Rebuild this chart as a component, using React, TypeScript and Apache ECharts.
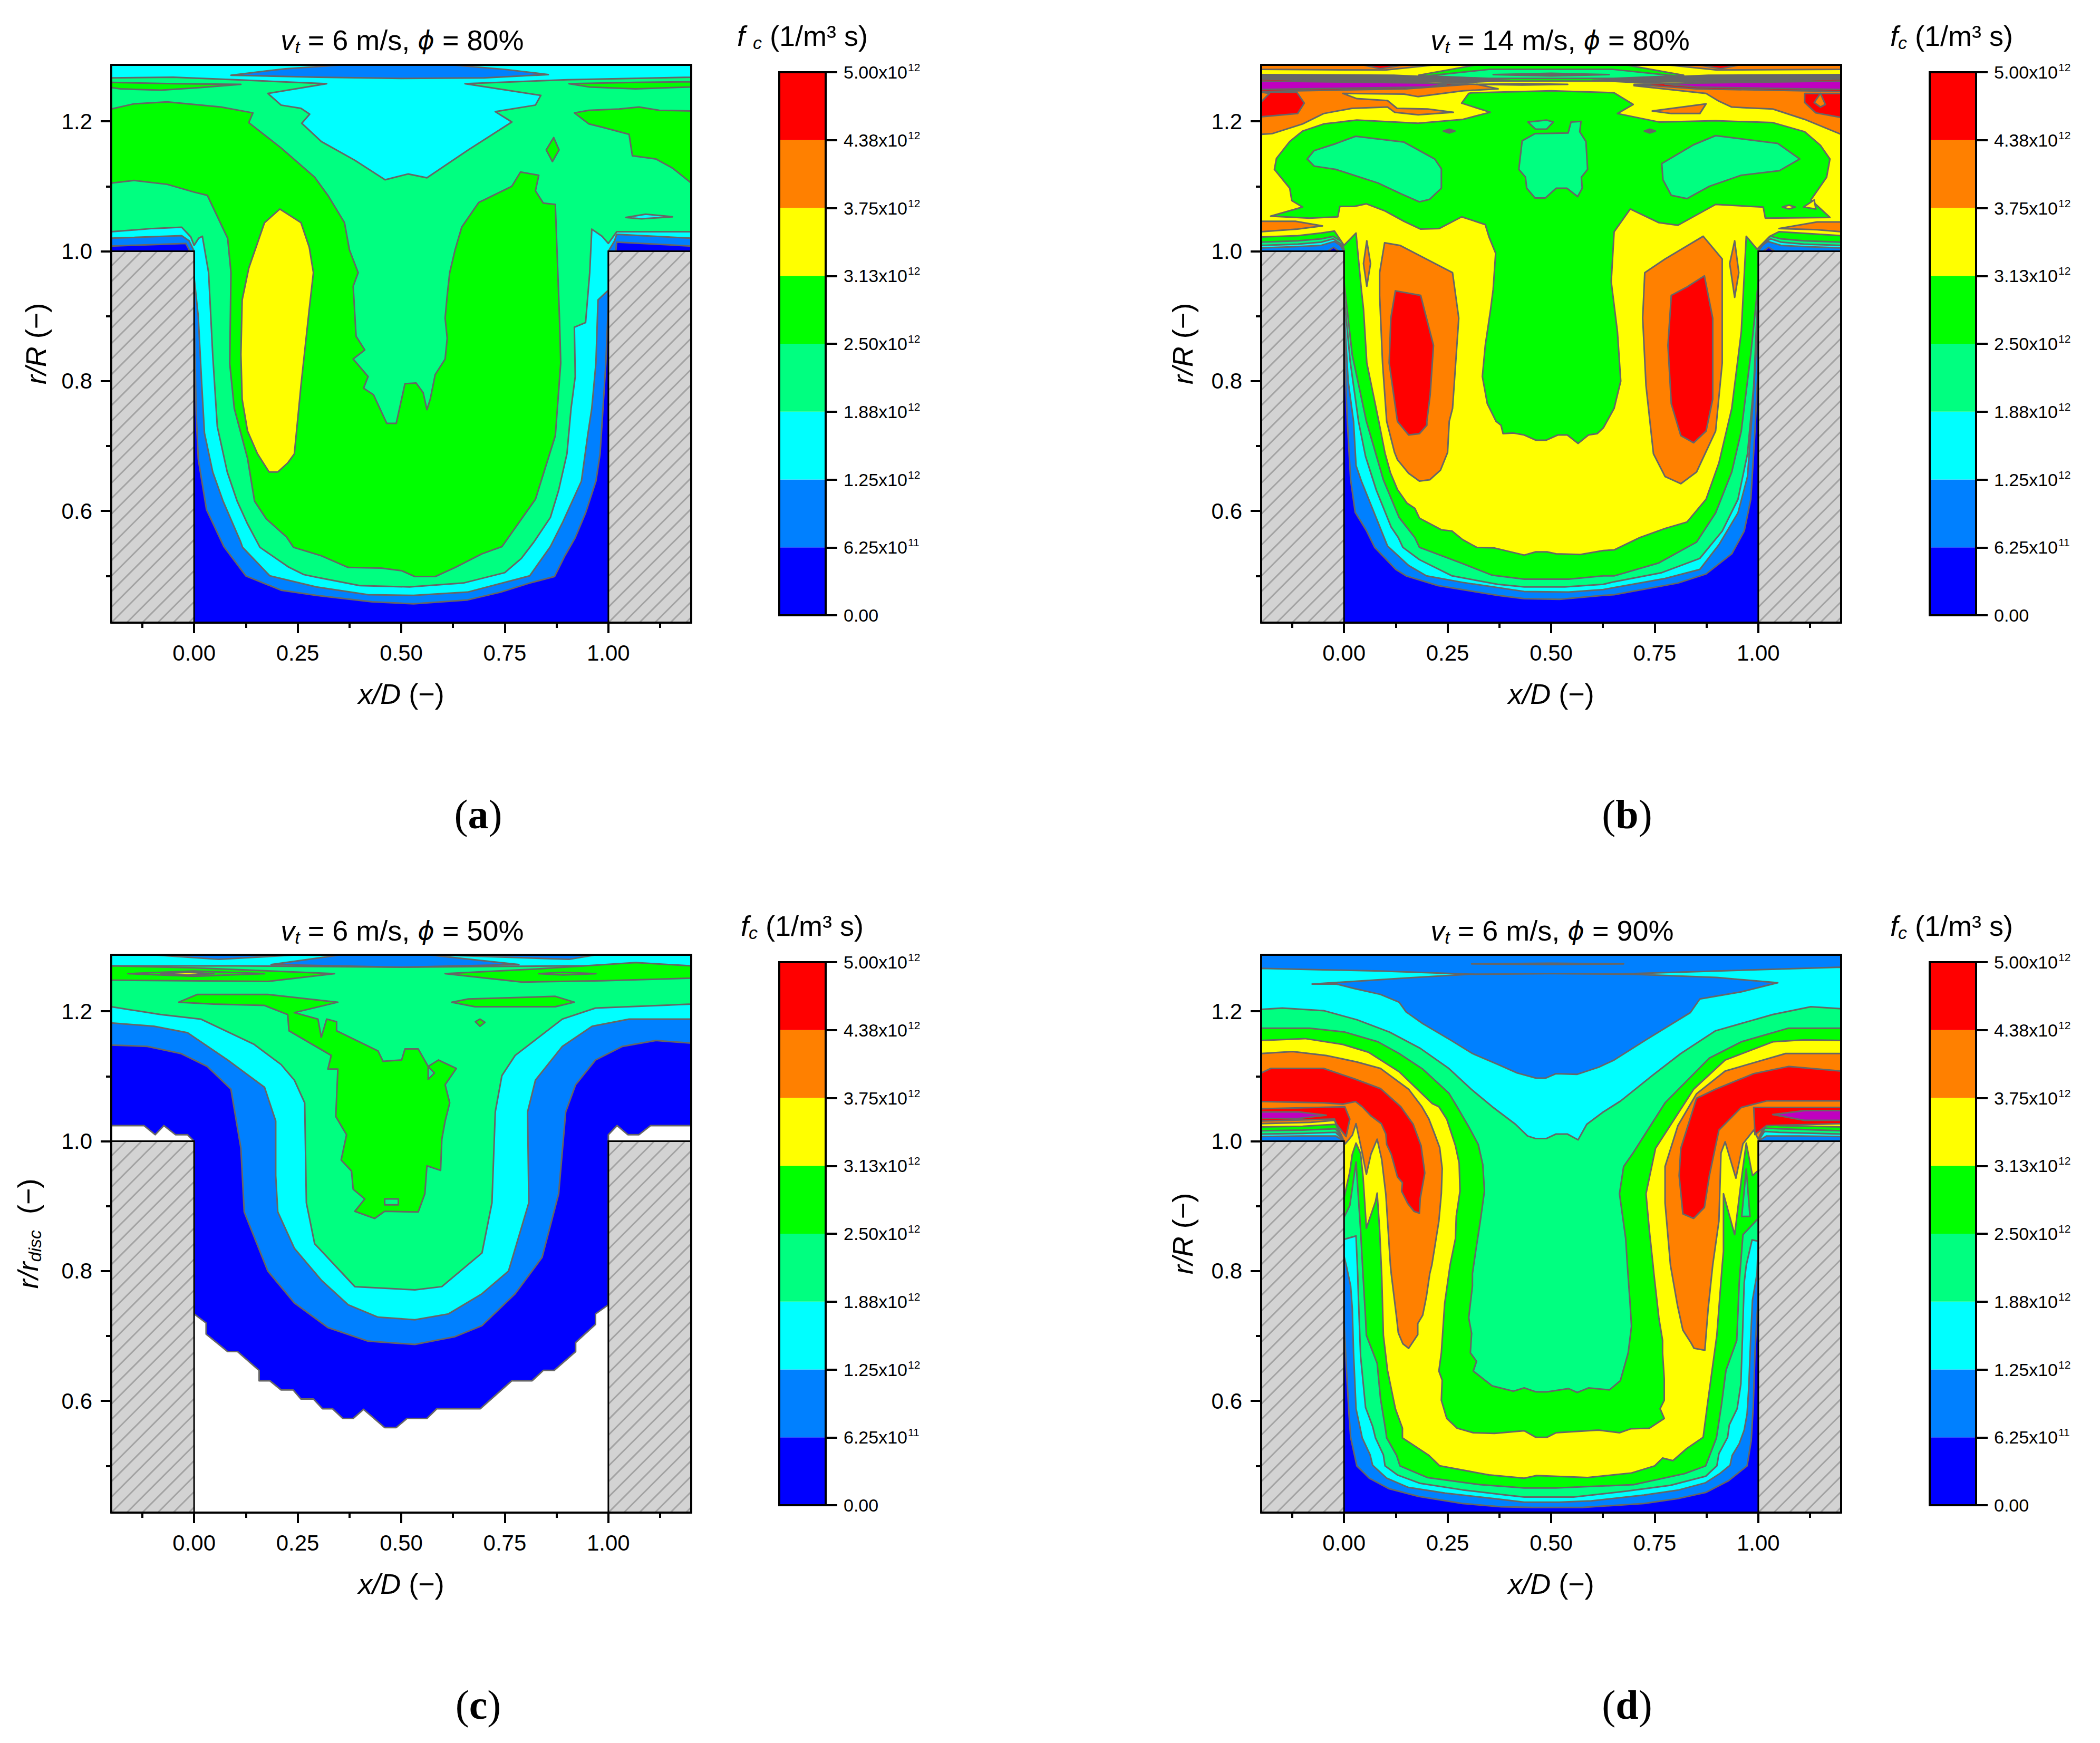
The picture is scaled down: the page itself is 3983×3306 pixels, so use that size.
import React, { useEffect, useRef } from "react";
import * as echarts from "echarts";

type Pt = number[];
const bandColors = ["#0000ff", "#0080ff", "#00ffff", "#00ff80", "#00ff00", "#ffff00", "#ff8000", "#ff0000", "#c000c0", "#666666"];
const colorLevels = [0, 6.25e11, 1.25e12, 1.875e12, 2.5e12, 3.125e12, 3.75e12, 4.375e12, 5e12];
const colorMantissa = ["0.00", "6.25", "1.25", "1.88", "2.50", "3.13", "3.75", "4.38", "5.00"];
const colorExponent = ["", "11", "12", "12", "12", "12", "12", "12", "12"];
const xMajor = [0, 0.25, 0.5, 0.75, 1];
const xMinor = [-0.125, 0.125, 0.375, 0.625, 0.875, 1.125];
const yMajor = [0.6, 0.8, 1.0, 1.2];
const yMinor = [0.5, 0.7, 0.9, 1.1];
const xRange = [-0.2, 1.2];
const yRange = [0.428, 1.287];
const full: Pt[] = [[-0.2, 0.428], [1.2, 0.428], [1.2, 1.287], [-0.2, 1.287]];

// ---------- panel (a): v=6, phi=80 ----------
const a1: Pt[] = [[0,.911],[.005,.75],[.01,.68],[.03,.602],[.072,.545],[.125,.5],[.21,.478],[.295,.47],[.43,.46],[.53,.457],[.66,.463],[.74,.475],[.81,.489],[.87,.499],[.895,.531],[.92,.559],[.945,.597],[.97,.646],[.98,.688],[.994,.828],[1,.92],[1,1],[1.018,1],[1.02,1.014],[1.2,1.008],[1.2,1.287],[-.2,1.287],[-.2,1.008],[-.02,1.012],[-.01,1],[0,1]];
const a2: Pt[] = [[-.2,1.02],[-.03,1.024],[-.012,1.016],[0,1],[0,.96],[.01,.9],[.018,.8],[.025,.72],[.045,.66],[.07,.615],[.112,.553],[.117,.544],[.183,.5],[.295,.483],[.42,.471],[.53,.47],[.66,.475],[.81,.5],[.86,.545],[.89,.583],[.935,.646],[.95,.716],[.96,.758],[.97,.828],[.975,.925],[1,.94],[1,1],[1.015,1.016],[1.02,1.026],[1.2,1.02],[1.2,1.287],[-.2,1.287]];
const a3: Pt[] = [[-.2,1.03],[-.1,1.035],[-.03,1.037],[-.008,1.022],[0,1.009],[.011,1.02],[.02,1.023],[.035,.967],[.045,.84],[.056,.73],[.08,.66],[.104,.615],[.129,.58],[.159,.544],[.227,.514],[.265,.502],[.295,.498],[.4,.485],[.52,.483],[.65,.489],[.75,.505],[.79,.527],[.82,.552],[.86,.59],[.88,.632],[.9,.688],[.91,.758],[.92,.807],[.918,.883],[.945,.89],[.955,.967],[.96,1.034],[.985,1.023],[1,1.012],[1.02,1.03],[1.2,1.03],[1.2,1.268],[-.2,1.268]];
const aCyanTop: Pt[] = [[-.2,1.287],[-.2,1.267],[-.05,1.268],[.1,1.264],[.32,1.258],[.178,1.243],[.21,1.225],[.258,1.22],[.279,1.211],[.26,1.197],[.307,1.169],[.388,1.14],[.461,1.11],[.517,1.119],[.562,1.113],[.662,1.156],[.767,1.199],[.727,1.215],[.824,1.225],[.837,1.24],[.654,1.258],[.9,1.264],[1.2,1.268],[1.2,1.287]];
const aTopLens: Pt[] = [[.089,1.271],[.22,1.281],[.36,1.287],[.62,1.287],[.75,1.28],[.855,1.272],[.7,1.267],[.5,1.266],[.3,1.268]];
const aGreenL: Pt[] = [[-.2,1.26],[-.05,1.258],[.113,1.257],[.016,1.252],[-.08,1.248],[-.178,1.25],[-.2,1.252]];
const aGreenR: Pt[] = [[.905,1.258],[1.066,1.26],[1.2,1.261],[1.2,1.253],[1.066,1.25],[.953,1.253]];
const aGreen: Pt[] = [[-.2,1.219],[-.145,1.227],[-.065,1.23],[.065,1.222],[.142,1.213],[.132,1.198],[.21,1.159],[.291,1.114],[.323,1.086],[.363,1.044],[.375,1.002],[.396,.967],[.384,.946],[.391,.869],[.412,.848],[.384,.834],[.42,.807],[.409,.789],[.433,.779],[.465,.735],[.488,.735],[.509,.796],[.536,.797],[.553,.782],[.562,.756],[.57,.772],[.582,.81],[.606,.834],[.611,.866],[.606,.897],[.611,.932],[.617,.967],[.63,1.002],[.646,1.037],[.687,1.075],[.767,1.1],[.788,1.122],[.832,1.117],[.824,1.093],[.843,1.074],[.872,1.072],[.882,.897],[.885,.828],[.872,.716],[.824,.618],[.743,.545],[.695,.534],[.63,.513],[.582,.499],[.533,.499],[.501,.508],[.452,.512],[.372,.513],[.307,.531],[.24,.544],[.223,.56],[.174,.588],[.146,.615],[.129,.681],[.097,.758],[.086,.827],[.089,.967],[.081,1.02],[.032,1.086],[0,1.091],[-.065,1.103],[-.145,1.109],[-.2,1.105]];
const aGreenTR: Pt[] = [[.918,1.213],[.953,1.217],[1.026,1.219],[1.074,1.222],[1.123,1.217],[1.2,1.216],[1.2,1.105],[1.155,1.128],[1.115,1.142],[1.058,1.147],[1.05,1.18],[.985,1.191],[.953,1.196]];
const aGreenDrop: Pt[] = [[.868,1.175],[.881,1.156],[.865,1.138],[.85,1.156]];
const aCyanSliver: Pt[] = [[1.042,1.052],[1.09,1.057],[1.155,1.053],[1.08,1.05]];
const aYellow: Pt[] = [[.207,1.065],[.258,1.044],[.278,1.006],[.288,.967],[.278,.911],[.258,.793],[.242,.688],[.226,.674],[.202,.66],[.181,.66],[.153,.688],[.129,.723],[.116,.772],[.113,.841],[.116,.925],[.132,.974],[.17,1.044]];
const panelA: [number, Pt[]][] = [[0, full],[1, a1],[2, a2],[3, a3],[2, aCyanTop],[1, aTopLens],[4, aGreenL],[4, aGreenR],[4, aGreen],[4, aGreenTR],[4, aGreenDrop],[2, aCyanSliver],[5, aYellow]];

// ---------- panel (b): v=14, phi=80 ----------
const b1: Pt[] = [[0,.897],[.004,.8],[.008,.738],[.016,.648],[.027,.598],[.054,.57],[.074,.544],[.125,.51],[.15,.5],[.227,.485],[.371,.47],[.435,.465],[.52,.464],[.626,.47],[.652,.471],[.806,.489],[.874,.503],[.936,.534],[.966,.569],[.982,.618],[.992,.723],[1,.828],[1,1],[1.2,1],[1.2,1.287],[-.2,1.287],[-.2,1],[0,1]];
const b1a: Pt[] = [[-.04,1],[-.025,1.006],[-.012,1]];
const b1b: Pt[] = [[1.012,1],[1.025,1.006],[1.04,1]];
const b2: Pt[] = [[-.2,1.005],[-.111,1.007],[-.055,1.009],[-.023,1.015],[-.009,1.009],[0,1],[0,.911],[.01,.8],[.023,.738],[.029,.67],[.042,.646],[.088,.573],[.105,.546],[.156,.516],[.199,.5],[.286,.49],[.435,.476],[.542,.475],[.626,.479],[.652,.482],[.775,.496],[.859,.51],[.905,.548],[.951,.597],[.974,.653],[.986,.758],[1,.897],[1,1],[1.01,1.009],[1.023,1.015],[1.055,1.009],[1.11,1.007],[1.2,1.005],[1.2,1.287],[-.2,1.287]];
const b3: Pt[] = [[-.2,1.009],[-.111,1.011],[-.055,1.014],[-.026,1.019],[-.009,1.012],[0,1.001],[0,.932],[.015,.83],[.035,.738],[.052,.684],[.078,.632],[.114,.575],[.131,.559],[.142,.544],[.182,.525],[.261,.5],[.371,.487],[.435,.483],[.533,.483],[.626,.487],[.652,.491],[.767,.505],[.859,.527],[.913,.569],[.951,.618],[.974,.688],[.989,.793],[1,.946],[1,1],[1.01,1.012],[1.03,1.019],[1.055,1.014],[1.11,1.011],[1.2,1.009],[1.2,1.287],[-.2,1.287]];
const b4: Pt[] = [[-.2,1.014],[-.111,1.016],[-.055,1.019],[-.026,1.023],[-.006,1.015],[0,1.003],[0,.953],[.02,.84],[.054,.738],[.095,.648],[.133,.59],[.171,.559],[.182,.544],[.286,.519],[.358,.501],[.435,.495],[.542,.495],[.626,.5],[.652,.5],[.76,.52],[.851,.552],[.897,.597],[.936,.66],[.959,.723],[.982,.842],[1,.953],[1,1],[1.01,1.015],[1.03,1.023],[1.055,1.019],[1.11,1.016],[1.2,1.014],[1.2,1.287],[-.2,1.287]];
const b5: Pt[] = [[-.2,1.022],[-.111,1.024],[-.055,1.028],[-.023,1.031],[0,1.009],[.029,1.028],[.034,.994],[.042,.94],[.047,.911],[.055,.828],[.084,.738],[.099,.689],[.112,.659],[.129,.633],[.152,.612],[.171,.604],[.182,.589],[.235,.571],[.261,.569],[.286,.556],[.32,.544],[.363,.543],[.435,.532],[.463,.537],[.49,.537],[.512,.534],[.571,.533],[.626,.539],[.652,.54],[.714,.559],[.775,.573],[.828,.583],[.874,.618],[.905,.674],[.936,.758],[.959,.876],[.971,1.023],[.997,1.003],[1.028,1.023],[1.05,1.03],[1.1,1.028],[1.2,1.024],[1.2,1.287],[-.2,1.287]];
const bGreenT: Pt[] = [[.301,1.243],[.284,1.228],[.353,1.214],[.287,1.203],[.179,1.197],[.031,1.202],[-.049,1.196],[-.1,1.185],[-.131,1.169],[-.163,1.143],[-.168,1.126],[-.131,1.097],[-.126,1.078],[-.1,1.068],[-.177,1.054],[-.083,1.051],[-.015,1.053],[-.01,1.069],[.025,1.069],[.054,1.073],[.099,1.062],[.145,1.046],[.185,1.034],[.23,1.035],[.284,1.053],[.341,1.041],[.35,1.022],[.366,.997],[.36,.941],[.354,.911],[.341,.855],[.334,.807],[.346,.765],[.367,.738],[.379,.732],[.384,.719],[.409,.72],[.435,.717],[.463,.709],[.488,.709],[.516,.717],[.539,.717],[.565,.704],[.59,.717],[.611,.719],[.626,.728],[.652,.758],[.668,.8],[.66,.876],[.645,.953],[.652,1.03],[.691,1.065],[.76,1.044],[.806,1.04],[.897,1.072],[1.012,1.068],[1.017,1.051],[1.173,1.052],[1.127,1.079],[1.165,1.114],[1.173,1.142],[1.15,1.163],[1.112,1.184],[1.035,1.198],[.897,1.201],[.76,1.199],[.66,1.212],[.698,1.226],[.652,1.244],[.5,1.247],[.308,1.244]];
const bBlobL: Pt[] = [[-.089,1.142],[-.072,1.155],[-.023,1.165],[.028,1.177],[.145,1.168],[.219,1.142],[.235,1.127],[.235,1.097],[.207,1.08],[.182,1.076],[.139,1.088],[.082,1.105],[-.02,1.126],[-.072,1.131]];
const bBlobC: Pt[] = [[.43,1.17],[.461,1.181],[.541,1.182],[.548,1.199],[.572,1.2],[.569,1.184],[.584,1.169],[.588,1.126],[.573,1.114],[.575,1.097],[.564,1.084],[.538,1.097],[.512,1.097],[.486,1.082],[.461,1.082],[.441,1.097],[.438,1.114],[.422,1.126]];
const bBlobT: Pt[] = [[.444,1.199],[.489,1.202],[.505,1.199],[.489,1.188],[.462,1.188]];
const bBlobR: Pt[] = [[.767,1.135],[.844,1.164],[.897,1.178],[1.047,1.166],[1.1,1.142],[1.051,1.124],[.959,1.117],[.882,1.1],[.828,1.081],[.79,1.086],[.77,1.11]];
const bMiniY1: Pt[] = [[1.058,1.068],[1.074,1.071],[1.089,1.068],[1.074,1.065]];
const bMiniY2: Pt[] = [[1.109,1.068],[1.135,1.079],[1.139,1.065]];
const bDotL: Pt[] = [[.24,1.185],[.254,1.188],[.268,1.185],[.254,1.182]];
const bDotR: Pt[] = [[.725,1.185],[.738,1.188],[.752,1.185],[.738,1.182]];
const bOrLensL: Pt[] = [[-.2,1.046],[-.117,1.046],[-.052,1.039],[-.112,1.034],[-.2,1.03]];
const bOrLensR: Pt[] = [[1.05,1.035],[1.142,1.045],[1.2,1.045],[1.2,1.03],[1.142,1.033]];
const bOrL: Pt[] = [[.086,.967],[.098,1.013],[.135,1.009],[.262,.967],[.277,.897],[.262,.758],[.254,.738],[.25,.69],[.233,.663],[.207,.648],[.182,.646],[.156,.658],[.129,.679],[.122,.69],[.103,.738],[.093,.828],[.086,.932]];
const bRedL: Pt[] = [[.124,.939],[.185,.932],[.216,.855],[.208,.779],[.2,.738],[.2,.732],[.182,.719],[.156,.717],[.129,.738],[.109,.828],[.113,.897]];
const bOrR: Pt[] = [[.726,.967],[.775,.988],[.867,1.023],[.913,.988],[.913,.828],[.897,.723],[.851,.66],[.813,.642],[.775,.653],[.747,.688],[.729,.793],[.721,.897]];
const bRedR: Pt[] = [[.79,.932],[.828,.945],[.87,.962],[.89,.897],[.89,.772],[.874,.723],[.844,.705],[.813,.716],[.79,.765],[.782,.855]];
const bSlimL: Pt[] = [[.055,1.016],[.064,.981],[.055,.946],[.047,.981]];
const bSlimR: Pt[] = [[.943,1.016],[.953,.967],[.943,.929],[.931,.981]];
const bOrTopL: Pt[] = [[-.2,1.18],[-.174,1.181],[-.1,1.196],[-.049,1.212],[.019,1.22],[.105,1.222],[.122,1.214],[.179,1.21],[.264,1.214],[.202,1.219],[.128,1.22],[.105,1.232],[.031,1.235],[-.003,1.243],[.145,1.242],[.179,1.238],[.287,1.247],[.372,1.25],[.321,1.257],[-.2,1.262]];
const bRedBlobL: Pt[] = [[-.2,1.245],[-.114,1.245],[-.096,1.228],[-.112,1.212],[-.2,1.207]];
const bOrInRedL: Pt[] = [[-.2,1.245],[-.18,1.243],[-.2,1.23]];
const bOrTopR: Pt[] = [[1.2,1.18],[1.112,1.203],[1.035,1.219],[.936,1.222],[.905,1.231],[.874,1.243],[.7,1.255],[1.2,1.262]];
const bOrLensTR: Pt[] = [[.744,1.216],[.874,1.227],[.859,1.212],[.79,1.212]];
const bRedBlobR: Pt[] = [[1.112,1.243],[1.2,1.243],[1.2,1.206],[1.139,1.213],[1.112,1.229]];
const bOrInRedR: Pt[] = [[1.15,1.243],[1.162,1.226],[1.15,1.222],[1.135,1.229]];
const bTopOrL: Pt[] = [[-.2,1.287],[.22,1.287],[.1,1.279],[-.2,1.28]];
const bTopRedL: Pt[] = [[.045,1.287],[.145,1.287],[.088,1.281]];
const bTopOrR: Pt[] = [[.78,1.287],[1.2,1.287],[1.2,1.28],[.9,1.279]];
const bTopRedR: Pt[] = [[.855,1.287],[.955,1.287],[.91,1.281]];
const bTopGreen: Pt[] = [[.18,1.271],[.32,1.287],[.68,1.287],[.82,1.271],[.68,1.262],[.32,1.262]];
const bTopTeal: Pt[] = [[.2,1.27],[.35,1.28],[.65,1.28],[.8,1.27],[.65,1.266],[.35,1.266]];
const bTopLine: Pt[] = [[.36,1.272],[.5,1.274],[.64,1.272],[.5,1.27]];
const bGrayL: Pt[] = [[-.2,1.272],[.12,1.271],[.3,1.266],[.4,1.263],[.3,1.26],[.1,1.262],[-.2,1.262]];
const bGrayR: Pt[] = [[1.2,1.272],[.88,1.271],[.7,1.266],[.6,1.263],[.7,1.26],[.9,1.262],[1.2,1.262]];
const bRedBandL: Pt[] = [[-.2,1.265],[.3,1.257],[.15,1.25],[-.2,1.246]];
const bRedBandR: Pt[] = [[1.2,1.265],[.7,1.257],[.85,1.25],[1.2,1.246]];
const bPurpleL: Pt[] = [[-.2,1.262],[.202,1.259],[.247,1.257],[.202,1.253],[-.2,1.249]];
const bPurpleR: Pt[] = [[1.2,1.262],[.85,1.259],[.775,1.257],[.85,1.253],[1.2,1.249]];
const bMidThin: Pt[] = [[.32,1.257],[.43,1.258],[.54,1.257],[.43,1.256]];
const panelB: [number, Pt[]][] = [[0, full],[1, b1],[0, b1a],[0, b1b],[2, b2],[3, b3],[4, b4],[5, b5],[4, bGreenT],[3, bBlobL],[3, bBlobC],[3, bBlobT],[3, bBlobR],[5, bMiniY1],[5, bMiniY2],[9, bDotL],[9, bDotR],[6, bOrLensL],[6, bOrLensR],[6, bOrL],[7, bRedL],[6, bOrR],[7, bRedR],[6, bSlimL],[6, bSlimR],[6, bOrTopL],[7, bRedBlobL],[6, bOrInRedL],[6, bOrTopR],[6, bOrLensTR],[7, bRedBlobR],[6, bOrInRedR],[6, bTopOrL],[7, bTopRedL],[6, bTopOrR],[7, bTopRedR],[4, bTopGreen],[3, bTopTeal],[9, bTopLine],[9, bGrayL],[9, bGrayR],[7, bRedBandL],[7, bRedBandR],[8, bPurpleL],[8, bPurpleR],[5, bMidThin]];

// ---------- panel (c): v=6, phi=50 ----------
const c0: Pt[] = [[-.2,1.024],[-.121,1.024],[-.094,1.01],[-.073,1.024],[-.045,1.01],[-.016,1.01],[0,1],[0,.734],[.029,.72],[.029,.703],[.081,.676],[.105,.676],[.157,.647],[.157,.631],[.183,.631],[.21,.617],[.239,.617],[.258,.603],[.288,.603],[.31,.588],[.334,.588],[.359,.573],[.384,.573],[.409,.587],[.46,.559],[.488,.559],[.514,.573],[.562,.573],[.586,.588],[.691,.588],[.767,.631],[.816,.631],[.843,.647],[.869,.647],[.921,.676],[.921,.69],[.969,.718],[.969,.734],[1,.748],[1,1],[1,1.01],[1.021,1.024],[1.047,1.01],[1.074,1.01],[1.102,1.024],[1.2,1.024],[1.2,1.287],[-.2,1.287]];
const c1: Pt[] = [[-.2,1.148],[-.113,1.146],[-.032,1.135],[.032,1.115],[.089,1.08],[.113,.989],[.121,.891],[.178,.8],[.242,.751],[.323,.713],[.42,.692],[.533,.687],[.63,.699],[.695,.716],[.775,.765],[.84,.821],[.88,.919],[.897,1.045],[.921,1.087],[.969,1.125],[1.034,1.146],[1.115,1.155],[1.2,1.151],[1.2,1.287],[-.2,1.287]];
const c2: Pt[] = [[-.2,1.182],[-.097,1.177],[-.016,1.167],[.081,1.125],[.17,1.083],[.197,1.031],[.197,.947],[.202,.891],[.242,.835],[.307,.786],[.372,.748],[.444,.729],[.533,.725],[.614,.734],[.695,.765],[.759,.8],[.808,.905],[.805,1.045],[.824,1.094],[.889,1.146],[.961,1.177],[1.05,1.188],[1.2,1.188],[1.2,1.287],[-.2,1.287]];
const c3: Pt[] = [[-.2,1.207],[-.081,1.195],[.016,1.188],[.145,1.149],[.21,1.118],[.242,1.094],[.267,1.059],[.271,.905],[.291,.842],[.388,.776],[.533,.771],[.598,.776],[.695,.828],[.719,.905],[.727,1.045],[.743,1.101],[.775,1.132],[.889,1.188],[.969,1.205],[1.2,1.211],[1.2,1.27],[.9,1.27],[.5,1.268],[.1,1.27],[-.2,1.27]];
const cLensTop: Pt[] = [[.186,1.272],[.355,1.287],[.565,1.287],[.784,1.272],[.5,1.268]];
const cLensTL: Pt[] = [[-.1,1.287],[.06,1.28],[.25,1.287]];
const cLensTR: Pt[] = [[.58,1.287],[.905,1.28],[.97,1.287]];
const cGreenTL: Pt[] = [[-.2,1.27],[0,1.267],[.339,1.258],[.178,1.246],[-.2,1.248]];
const cGreenTR: Pt[] = [[.606,1.258],[.824,1.265],[1.066,1.275],[1.2,1.27],[1.2,1.251],[.985,1.247],[.792,1.245]];
const cInnerL: Pt[] = [[-.16,1.258],[0,1.262],[.17,1.258],[0,1.254]];
const cInnerL2: Pt[] = [[-.08,1.258],[-.016,1.26],[.048,1.258],[-.016,1.256]];
const cInnerR: Pt[] = [[.832,1.258],[.89,1.26],[.97,1.258],[.89,1.256]];
const cGreenMain: Pt[] = [[-.037,1.214],[.008,1.226],[.178,1.226],[.347,1.214],[.242,1.198],[.299,1.188],[.307,1.16],[.32,1.188],[.344,1.184],[.344,1.17],[.444,1.139],[.456,1.123],[.501,1.125],[.509,1.142],[.541,1.142],[.565,1.115],[.59,1.125],[.633,1.112],[.606,1.087],[.617,1.059],[.606,1.031],[.598,1.003],[.595,.955],[.562,.962],[.557,.919],[.541,.891],[.46,.892],[.436,.881],[.388,.892],[.412,.911],[.384,.926],[.38,.954],[.355,.971],[.368,1.01],[.342,1.038],[.347,1.111],[.323,1.111],[.331,1.132],[.229,1.17],[.226,1.195],[.17,1.209],[.048,1.211]];
const cHoleA: Pt[] = [[.46,.911],[.493,.911],[.493,.902],[.46,.902]];
const cHoleB: Pt[] = [[.565,1.115],[.58,1.105],[.565,1.095]];
const cGreenMid: Pt[] = [[.622,1.214],[.662,1.219],[.872,1.223],[.918,1.214],[.872,1.207],[.678,1.207]];
const cGreenDot: Pt[] = [[.69,1.188],[.702,1.183],[.69,1.177],[.679,1.184]];
const panelC: [number, Pt[]][] = [[0, c0],[1, c1],[2, c2],[3, c3],[1, cLensTop],[1, cLensTL],[1, cLensTR],[4, cGreenTL],[4, cGreenTR],[4, cInnerL],[5, cInnerL2],[4, cInnerR],[4, cGreenMain],[3, cHoleA],[3, cHoleB],[4, cGreenMid],[4, cGreenDot]];

// ---------- panel (d): v=6, phi=90 ----------
const d1: Pt[] = [[0,.72],[.001,.709],[.006,.647],[.012,.58],[.016,.544],[.031,.5],[.061,.481],[.108,.465],[.18,.453],[.286,.442],[.38,.437],[.456,.436],[.575,.436],[.724,.442],[.809,.45],[.873,.459],[.928,.477],[.973,.5],[.983,.539],[.988,.593],[.992,.674],[.998,.742],[1,.78],[1,1],[1.2,1],[1.2,1.287],[-.2,1.287],[-.2,1],[0,1]];
const d2: Pt[] = [[-.2,1.007],[-.1,1.008],[-.02,1.008],[0,1],[0,.823],[.005,.81],[.016,.777],[.02,.742],[.023,.674],[.029,.588],[.044,.543],[.063,.517],[.069,.501],[.103,.481],[.154,.467],[.244,.458],[.371,.449],[.435,.444],[.52,.444],[.597,.446],[.724,.455],[.809,.463],[.873,.474],[.907,.488],[.932,.501],[.937,.516],[.954,.534],[.966,.555],[.973,.58],[.977,.62],[.982,.701],[.986,.755],[.997,.796],[1,.85],[1,1],[1.02,1.008],[1.1,1.008],[1.2,1.007],[1.2,1.268],[.9,1.262],[.64,1.257],[.316,1.257],[.088,1.262],[-.2,1.266]];
const dTeal: Pt[] = [[-.2,1.203],[-.149,1.205],[-.049,1.201],[.031,1.187],[.11,1.168],[.184,1.143],[.253,1.112],[.307,1.08],[.358,1.053],[.414,1.026],[.443,1.008],[.463,1.004],[.488,1.004],[.512,1.011],[.539,1.011],[.565,1.002],[.586,1.026],[.626,1.045],[.668,1.062],[.744,1.101],[.813,1.135],[.897,1.17],[.974,1.184],[1.035,1.195],[1.127,1.207],[1.2,1.204],[1.2,1.011],[1.05,1.0135],[1.015,1.015],[1,1],[1,.846],[.985,.848],[.971,.809],[.966,.782],[.962,.701],[.958,.626],[.949,.588],[.93,.563],[.926,.544],[.905,.519],[.9,.5],[.873,.484],[.788,.47],[.682,.461],[.554,.452],[.435,.452],[.392,.455],[.286,.463],[.184,.473],[.129,.486],[.099,.5],[.095,.517],[.076,.543],[.069,.561],[.052,.59],[.04,.669],[.035,.755],[.033,.796],[.029,.854],[.001,.849],[0,.849],[0,1],[-.02,1.0135],[-.1,1.012],[-.2,1.011]];
const dGreen: Pt[] = [[-.2,1.174],[-.083,1.174],[.002,1.168],[.082,1.153],[.133,1.135],[.19,1.111],[.253,1.074],[.273,1.053],[.303,1.02],[.324,.995],[.335,.964],[.339,.923],[.329,.877],[.318,.831],[.31,.796],[.31,.777],[.301,.728],[.308,.704],[.305,.674],[.32,.661],[.312,.646],[.358,.623],[.409,.615],[.435,.62],[.463,.614],[.49,.614],[.542,.619],[.563,.613],[.59,.62],[.641,.617],[.667,.631],[.686,.674],[.694,.715],[.69,.755],[.684,.809],[.68,.85],[.665,.919],[.675,.961],[.698,.982],[.775,1.059],[.882,1.128],[.959,1.153],[1.073,1.174],[1.2,1.174],[1.2,1.016],[1.05,1.019],[1.015,1.02],[1,1],[1,.881],[.963,.856],[.954,.782],[.948,.693],[.922,.647],[.911,.593],[.899,.543],[.873,.5],[.822,.488],[.699,.471],[.511,.466],[.435,.466],[.329,.471],[.201,.482],[.135,.5],[.127,.516],[.103,.543],[.101,.553],[.088,.604],[.08,.658],[.054,.701],[.052,.728],[.046,.793],[.04,.863],[.029,.968],[.014,.901],[.001,.884],[0,.884],[0,1],[-.02,1.019],[-.1,1.017],[-.2,1.016]];
const dYellow: Pt[] = [[-.2,1.155],[-.094,1.158],[-.003,1.149],[.059,1.137],[.133,1.107],[.213,1.058],[.229,1.053],[.248,1.034],[.269,.993],[.278,.966],[.28,.923],[.271,.885],[.269,.85],[.256,.809],[.243,.75],[.235,.674],[.229,.646],[.237,.632],[.235,.601],[.248,.573],[.273,.558],[.312,.551],[.363,.55],[.435,.554],[.463,.544],[.49,.544],[.512,.551],[.614,.555],[.665,.551],[.692,.557],[.737,.558],[.773,.573],[.763,.588],[.773,.601],[.773,.634],[.769,.674],[.769,.693],[.76,.728],[.748,.796],[.746,.809],[.737,.863],[.729,.919],[.752,.989],[.844,1.08],[.92,1.125],[1.035,1.153],[1.112,1.156],[1.2,1.155],[1.2,1.022],[1.05,1.024],[1.02,1.026],[1,1],[1,.955],[.986,.947],[.971,.997],[.959,.94],[.943,.856],[.916,.919],[.916,.83],[.913,.809],[.9,.701],[.877,.593],[.867,.544],[.826,.526],[.794,.508],[.769,.512],[.75,.5],[.694,.489],[.588,.482],[.465,.485],[.435,.481],[.35,.486],[.231,.5],[.205,.516],[.141,.543],[.141,.558],[.124,.588],[.105,.647],[.095,.701],[.091,.793],[.086,.863],[.08,.92],[.076,.907],[.054,.866],[.046,.945],[.04,.981],[.029,.997],[.02,.98],[.014,.953],[.001,.915],[0,.915],[0,1],[-.02,1.026],[-.1,1.023],[-.2,1.022]];
const dSpikeR: Pt[] = [[.96,.884],[.971,.957],[.98,.884]];
const dOrL: Pt[] = [[-.2,1.135],[-.124,1.138],[-.043,1.132],[.031,1.122],[.088,1.112],[.156,1.08],[.188,1.053],[.205,1.034],[.22,1.009],[.231,.99],[.237,.958],[.235,.92],[.229,.877],[.212,.809],[.207,.796],[.199,.761],[.19,.732],[.178,.719],[.178,.702],[.156,.681],[.142,.688],[.131,.705],[.127,.728],[.114,.796],[.112,.809],[.101,.918],[.091,.972],[.08,1.003],[.065,.98],[.054,.949],[.044,.982],[.029,1.027],[.02,1.009],[.003,.996],[0,1],[-.023,1.032],[-.08,1.029],[-.2,1.027]];
const dOrR: Pt[] = [[1.2,1.135],[1.066,1.135],[.92,1.108],[.851,1.073],[.806,1.024],[.775,.961],[.775,.905],[.788,.809],[.805,.747],[.818,.709],[.837,.69],[.845,.681],[.871,.678],[.879,.742],[.89,.809],[.905,.877],[.91,.982],[.92,.999],[.946,.943],[.963,.996],[.989,1.017],[1,1.003],[1.02,1.032],[1.08,1.029],[1.2,1.027]];
const dRedL: Pt[] = [[-.2,1.105],[-.177,1.112],[-.049,1.112],[.025,1.096],[.088,1.081],[.137,1.053],[.167,1.026],[.186,.993],[.195,.951],[.184,.912],[.182,.889],[.169,.892],[.154,.904],[.139,.923],[.141,.936],[.129,.945],[.114,.98],[.103,.995],[.101,1.011],[.09,1.027],[.065,1.039],[.044,1.053],[.028,1.061],[-.003,1.057],[-.049,1.059],[-.2,1.061]];
const dRedR: Pt[] = [[1.2,1.108],[1.073,1.115],[.989,1.104],[.897,1.08],[.851,1.066],[.813,.989],[.809,.947],[.818,.888],[.844,.881],[.87,.898],[.882,.947],[.905,1.017],[.959,1.052],[1.02,1.062],[1.2,1.062]];
const dLensL: Pt[] = [[-.2,1.05],[.002,1.053],[.014,1.034],[.005,1.007],[-.018,1.026],[-.023,1.034],[-.2,1.031]];
const dLensR: Pt[] = [[.989,1.052],[1.2,1.052],[1.2,1.027],[1.02,1.024],[.992,1.01]];
const dPurpleL: Pt[] = [[-.2,1.045],[-.11,1.045],[-.043,1.04],[-.11,1.035],[-.2,1.035]];
const dPurpleR: Pt[] = [[1.035,1.041],[1.112,1.047],[1.2,1.047],[1.2,1.032],[1.112,1.032]];
const dBlueTop: Pt[] = [[-.077,1.242],[-.018,1.242],[.025,1.235],[.088,1.226],[.133,1.214],[.15,1.199],[.19,1.181],[.259,1.155],[.31,1.135],[.372,1.118],[.418,1.105],[.464,1.097],[.486,1.097],[.512,1.104],[.563,1.103],[.615,1.114],[.652,1.125],[.729,1.156],[.836,1.198],[.859,1.219],[.959,1.23],[1.047,1.244],[.9,1.252],[.7,1.257],[.5,1.258],[.3,1.257],[.145,1.251]];
const dTopLine: Pt[] = [[.308,1.273],[.5,1.274],[.675,1.273],[.5,1.272]];
const panelD: [number, Pt[]][] = [[0, full],[1, d1],[2, d2],[3, dTeal],[4, dGreen],[5, dYellow],[3, dSpikeR],[6, dOrL],[6, dOrR],[7, dRedL],[7, dRedR],[7, dLensL],[7, dLensR],[8, dPurpleL],[8, dPurpleR],[1, dBlueTop],[9, dTopLine]];

const FONT = "Liberation Sans";
const titleRich = {
  i: { fontFamily: FONT, fontStyle: "italic", fontWeight: "normal", fontSize: 54, color: "#000" },
  n: { fontFamily: FONT, fontWeight: "normal", fontSize: 54, color: "#000" },
  t: { fontFamily: FONT, fontStyle: "italic", fontWeight: "normal", fontSize: 34, color: "#000", padding: [26, 0, 0, 0] },
  p: { fontFamily: "DejaVu Sans", fontStyle: "italic", fontWeight: "normal", fontSize: 48, color: "#000" },
};
const capRich = {
  n: { fontFamily: "Liberation Serif", fontWeight: "normal", fontSize: 78, color: "#000" },
  b: { fontFamily: "Liberation Serif", fontSize: 78, fontWeight: "bold", color: "#000" },
};

const panels = [
  { polys: panelA, label: "a", title: "{i|v}{t|t}{n| = 6 m/s, }{p|ϕ}{n| = 80%}", tx: 763, ty: 46, px: 211, py: 123, cx: 1478, cy: 137, lx: 1398, ly: 38, legend: "{i|f }{t|c}{n| (1/m³ s)}", yn: "{i|r/R}{n| (−)}", ynGap: 116, capX: 907, capY: 1549 },
  { polys: panelB, label: "b", title: "{i|v}{t|t}{n| = 14 m/s, }{p|ϕ}{n| = 80%}", tx: 2959, ty: 46, px: 2392, py: 123, cx: 3660, cy: 137, lx: 3585, ly: 38, legend: "{i|f}{t|c}{n| (1/m³ s)}", yn: "{i|r/R}{n| (−)}", ynGap: 122, capX: 3086, capY: 1549 },
  { polys: panelC, label: "c", title: "{i|v}{t|t}{n| = 6 m/s, }{p|ϕ}{n| = 50%}", tx: 763, ty: 1735, px: 211, py: 1811, cx: 1478, cy: 1825, lx: 1405, ly: 1726, legend: "{i|f}{t|c}{n| (1/m³ s)}", yn: "{i|r/r}{t|disc}{n|  (−)}", ynGap: 128, capX: 907, capY: 3238 },
  { polys: panelD, label: "d", title: "{i|v}{t|t}{n| = 6 m/s, }{p|ϕ}{n| = 90%}", tx: 2944, ty: 1735, px: 2392, py: 1811, cx: 3660, cy: 1825, lx: 3585, ly: 1726, legend: "{i|f}{t|c}{n| (1/m³ s)}", yn: "{i|r/R}{n| (−)}", ynGap: 122, capX: 3086, capY: 3238 },
];

function hatchRender(blocks: number[][]) {
  return (params: any, api: any) => {
    const b = blocks[params.dataIndex];
    const p0 = api.coord([b[0], b[2]]);
    const p1 = api.coord([b[1], b[3]]);
    const x0 = Math.min(p0[0], p1[0]), x1 = Math.max(p0[0], p1[0]);
    const yb = Math.max(p0[1], p1[1]), yt = Math.min(p0[1], p1[1]);
    const w = x1 - x0, h = yb - yt;
    const kids: any[] = [{ type: "rect", shape: { x: x0, y: yt, width: w, height: h }, style: { fill: "#d3d3d3", stroke: "none" } }];
    const step = 29.4;
    for (let k = Math.ceil(-h / step); k * step < w; k++) {
      const c = k * step;
      const sx = Math.max(c, 0), sy = Math.max(-c, 0);
      const t = Math.min(w - sx, h - sy);
      kids.push({ type: "line", shape: { x1: x0 + sx, y1: yb - sy, x2: x0 + sx + t, y2: yb - sy - t }, style: { stroke: "#a3a3a3", lineWidth: 3 } });
    }
    kids.push({ type: "rect", shape: { x: x0, y: yt, width: w, height: h }, style: { fill: "none", stroke: "#000", lineWidth: 3 } });
    return { type: "group", children: kids };
  };
}

function buildOption() {
  const grid: any[] = [], xAxis: any[] = [], yAxis: any[] = [], series: any[] = [], title: any[] = [];
  const blocks = [[xRange[0], 0, yRange[0], 1], [1, xRange[1], yRange[0], 1]];
  const barRich = {
    m: { fontFamily: FONT, fontSize: 34, color: "#000" },
    s: { fontFamily: FONT, fontSize: 21, color: "#000", padding: [0, 0, 19, 1] },
  };
  const hiddenLine = { show: false };
  panels.forEach((p) => {
    const g = grid.length;
    grid.push({ left: p.px, top: p.py, width: 1100, height: 1058 });
    const xi = xAxis.length, yi = yAxis.length;
    const xBase = { type: "value", gridIndex: g, min: xRange[0], max: xRange[1], splitLine: hiddenLine, z: 10 };
    const yBase = { type: "value", gridIndex: g, min: yRange[0], max: yRange[1], splitLine: hiddenLine, z: 10 };
    const line = { show: true, onZero: false, lineStyle: { color: "#000", width: 4 } };
    xAxis.push({
      ...xBase, position: "bottom", axisLine: line,
      axisTick: { show: true, length: 20, customValues: xMajor, lineStyle: { color: "#000", width: 4 } },
      axisLabel: { show: true, margin: 36, customValues: xMajor, fontFamily: FONT, fontSize: 42, color: "#000", formatter: (v: number) => v.toFixed(2) },
      name: "{i|x/D}{n| (−)}", nameLocation: "center", nameGap: 108, nameTextStyle: { rich: titleRich },
    });
    xAxis.push({ ...xBase, position: "bottom", axisLine: line, axisLabel: { show: false }, axisTick: { show: true, length: 10, customValues: xMinor, lineStyle: { color: "#000", width: 4 } } });
    xAxis.push({ ...xBase, position: "top", axisLine: line, axisLabel: { show: false }, axisTick: { show: false } });
    yAxis.push({
      ...yBase, position: "left", axisLine: line,
      axisTick: { show: true, length: 20, customValues: yMajor, lineStyle: { color: "#000", width: 4 } },
      axisLabel: { show: true, margin: 36, customValues: yMajor, fontFamily: FONT, fontSize: 42, color: "#000", formatter: (v: number) => v.toFixed(1) },
      name: p.yn, nameLocation: "center", nameGap: p.ynGap, nameRotate: 90, nameTextStyle: { rich: titleRich },
    });
    yAxis.push({ ...yBase, position: "left", axisLine: line, axisLabel: { show: false }, axisTick: { show: true, length: 10, customValues: yMinor, lineStyle: { color: "#000", width: 4 } } });
    yAxis.push({ ...yBase, position: "right", axisLine: line, axisLabel: { show: false }, axisTick: { show: false } });

    const polys = p.polys;
    series.push({
      type: "custom", coordinateSystem: "cartesian2d", xAxisIndex: xi, yAxisIndex: yi, clip: true, silent: true, z: 2,
      data: polys.map((q, i) => [q[1][0][0], q[1][0][1], i]),
      renderItem: (params: any, api: any) => {
        const q = polys[params.dataIndex];
        const isBase = q[1] === full;
        return {
          type: "polygon",
          shape: { points: q[1].map((c) => api.coord(c)) },
          style: { fill: bandColors[q[0]], stroke: isBase ? "none" : "#666666", lineWidth: 3, lineJoin: "round" },
        };
      },
    });
    series.push({
      type: "custom", coordinateSystem: "cartesian2d", xAxisIndex: xi, yAxisIndex: yi, clip: true, silent: true, z: 3,
      data: blocks.map((b) => [b[0], b[2]]), renderItem: hatchRender(blocks),
    });

    // colour bar
    const cg = grid.length;
    grid.push({ left: p.cx, top: p.cy, width: 88, height: 1030 });
    const cxi = xAxis.length, cyi = yAxis.length;
    xAxis.push({ type: "value", gridIndex: cg, min: 0, max: 1, show: false });
    yAxis.push({
      type: "value", gridIndex: cg, position: "right", min: 0, max: 5e12, interval: 6.25e11, z: 10,
      splitLine: hiddenLine, axisLine: { show: true, onZero: false, lineStyle: { color: "#000", width: 4 } },
      axisTick: { show: true, length: 22, lineStyle: { color: "#000", width: 4 } },
      axisLabel: {
        show: true, margin: 34, rich: barRich, showMinLabel: true, showMaxLabel: true,
        formatter: (v: number) => {
          const i = Math.round(v / 6.25e11);
          return colorExponent[i] ? `{m|${colorMantissa[i]}x10}{s|${colorExponent[i]}}` : `{m|${colorMantissa[i]}}`;
        },
      },
    });
    series.push({
      type: "custom", coordinateSystem: "cartesian2d", xAxisIndex: cxi, yAxisIndex: cyi, silent: true, z: 2,
      data: colorLevels.slice(0, -1).map((v, i) => [0, v, colorLevels[i + 1]]),
      renderItem: (params: any, api: any) => {
        const a = api.coord([0, api.value(1)]);
        const b = api.coord([1, api.value(2)]);
        return { type: "rect", shape: { x: a[0], y: b[1], width: b[0] - a[0], height: a[1] - b[1] }, style: { fill: bandColors[params.dataIndex], stroke: "none" } };
      },
    });
    series.push({
      type: "custom", coordinateSystem: "cartesian2d", xAxisIndex: cxi, yAxisIndex: cyi, silent: true, z: 5,
      data: [[0, 0]],
      renderItem: (_: any, api: any) => {
        const a = api.coord([0, 0]);
        const b = api.coord([1, 5e12]);
        return { type: "rect", shape: { x: a[0], y: b[1], width: b[0] - a[0], height: a[1] - b[1] }, style: { fill: "none", stroke: "#000", lineWidth: 4 } };
      },
    });

    title.push({ text: p.title, left: p.tx, top: p.ty, textAlign: "center", padding: 0, textStyle: { fontWeight: "normal", rich: titleRich } });
    title.push({ text: p.legend, left: p.lx, top: p.ly, padding: 0, textStyle: { fontWeight: "normal", rich: titleRich } });
    title.push({ text: `{n|(}{b|${p.label}}{n|)}`, left: p.capX, top: p.capY - 44, textAlign: "center", padding: 0, textStyle: { fontWeight: "normal", rich: capRich } });
  });
  return { animation: false, backgroundColor: "#fff", title, grid, xAxis, yAxis, series };
}

export default function App() {
  const ref = useRef<HTMLDivElement>(null);
  useEffect(() => {
    if (!ref.current) return;
    const chart = echarts.init(ref.current, undefined, { renderer: "svg" });
    chart.setOption(buildOption() as any);
    return () => chart.dispose();
  }, []);
  return <div ref={ref} style={{ position: "absolute", left: 0, top: 0, width: 3983, height: 3306 }} />;
}
